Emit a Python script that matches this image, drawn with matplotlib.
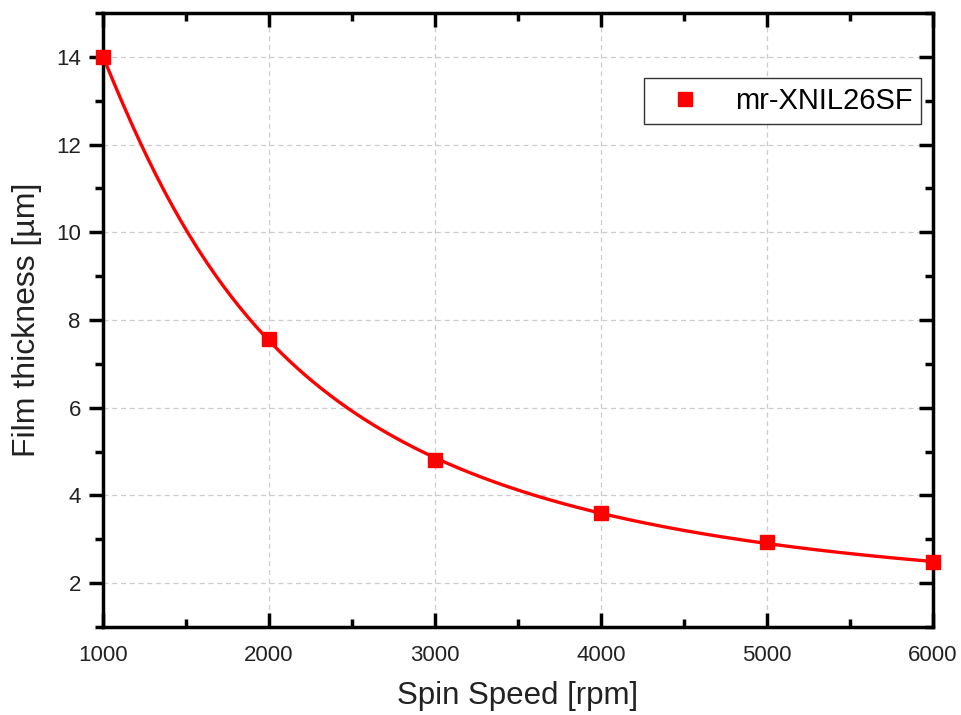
import numpy as np
import matplotlib.pyplot as plt
from matplotlib.ticker import MultipleLocator

plt.rcParams['font.family'] = ['Liberation Sans', 'DejaVu Sans']

# Measured data
spin_speed = np.array([1000, 2000, 3000, 4000, 5000, 6000])  # rpm
thickness = np.array([14.0, 7.57, 4.81, 3.60, 2.93, 2.48])  # um
series_label = 'mr-XNIL26SF'

# Smooth curve from a fit in log-log space
coef = np.polyfit(np.log(spin_speed), np.log(thickness), 3)
xs = np.linspace(spin_speed.min(), spin_speed.max(), 300)
ys = np.exp(np.polyval(coef, np.log(xs)))

fig = plt.figure(figsize=(9.62, 7.15), dpi=100)
ax = fig.add_axes([103 / 962, 1 - 627 / 715, 830 / 962, 614 / 715])

ax.plot(xs, ys, color='#ff0000', lw=2.4, zorder=3)
ax.plot(spin_speed, thickness, 's', color='#ff0000', ms=10, zorder=4,
        clip_on=False, label=series_label)

ax.set_xlim(1000, 6000)
ax.set_ylim(1, 15)
ax.xaxis.set_major_locator(MultipleLocator(1000))
ax.xaxis.set_minor_locator(MultipleLocator(500))
ax.yaxis.set_minor_locator(MultipleLocator(1))
ax.set_yticks(np.arange(2, 15, 2))

ax.grid(True, which='major', color='#cccccc', ls=(0, (4, 3)), lw=0.9)

for s in ax.spines.values():
    s.set_linewidth(2.5)
    s.set_capstyle('projecting')

# bottom and top ticks inward, left ticks outward
ax.tick_params(axis='x', which='major', direction='in', length=10, width=2.5,
               top=True, labelsize=16, pad=13, labelcolor='#222222')
ax.tick_params(axis='x', which='minor', direction='in', length=6, width=2.5, top=True)
ax.tick_params(axis='y', which='major', direction='out', length=10, width=2.5,
               labelsize=16, pad=6, labelcolor='#222222')
ax.tick_params(axis='y', which='minor', direction='out', length=6, width=2.5)

# right ticks inward
right = ax.twinx()
right.set_ylim(ax.get_ylim())
right.set_yticks(np.arange(2, 15, 2))
right.yaxis.set_minor_locator(MultipleLocator(1))
right.tick_params(which='major', direction='in', length=10, width=2.5, labelright=False)
right.tick_params(which='minor', direction='in', length=6, width=2.5)
for s in right.spines.values():
    s.set_visible(False)

ax.set_xlabel('Spin Speed [rpm]', fontsize=22.5, color='#222222', labelpad=11)
ax.set_ylabel('Film thickness [µm]', fontsize=23, color='#222222', labelpad=10)

leg = ax.legend(loc='upper right', bbox_to_anchor=(0.9855, 0.894), fontsize=21,
                fancybox=False, framealpha=1, edgecolor='#333333',
                handlelength=2.2, handletextpad=0.6, borderpad=0.3,
                borderaxespad=0)
leg.get_frame().set_linewidth(1.0)
leg.set_zorder(5)

fig.savefig('out.png', dpi=100)
